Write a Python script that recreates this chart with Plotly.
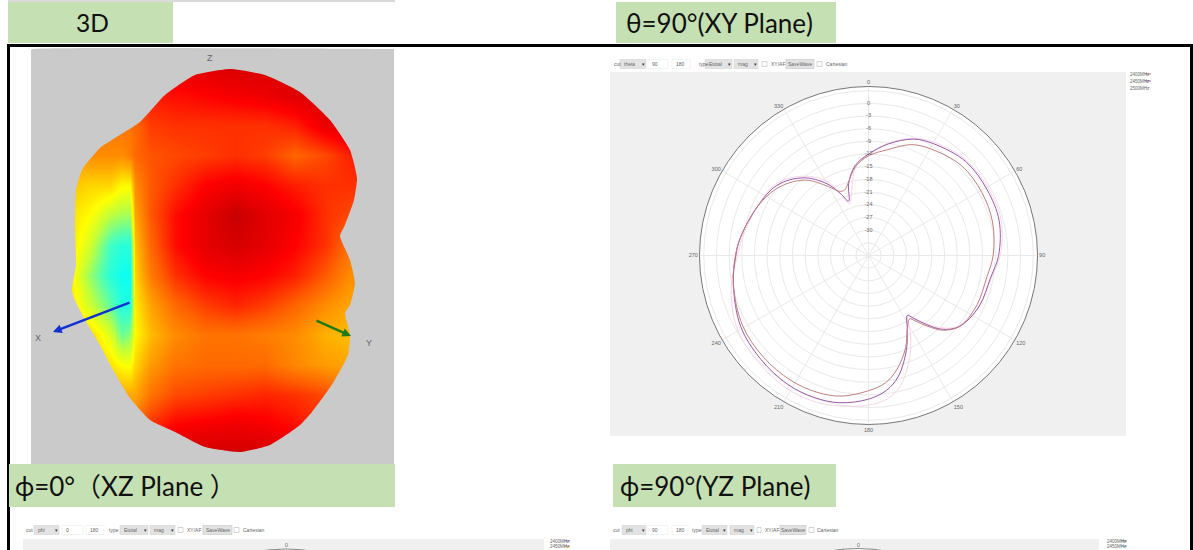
import plotly.graph_objects as go

# ---------- polar pattern (theta = 90 cut) ----------
ANGLES = [0, 10, 21, 30, 46, 61, 75, 90, 100, 115, 128, 135, 140, 144.5, 147, 152.4, 158, 166, 172.4,
          180, 191, 201, 212, 226, 241, 258, 270, 278, 294, 307.5, 320, 330, 335.5, 340, 344.5, 351.5, 360]
GAIN_2400 = [-12.4, -10.6, -7.9, -6.8, -5.4, -5.3, -5.6, -6.5, -7.5, -7.8, -8.7, -11.0, -14.1, -17.0, -18.1, -16.2, -12.5, -8.2, -5.6,
             -4.0, -2.1, -1.4, -1.2, -1.4, -1.9, -3.3, -4.5, -5.4, -7.3, -9.4, -12.7, -17.2, -19.3, -19.5, -18.1, -14.8, -12.4]
GAIN_2450 = [-12.0, -9.2, -6.5, -5.4, -4.0, -3.9, -4.0, -5.2, -6.6, -7.2, -8.7, -11.3, -14.7, -17.8, -19.1, -16.2, -12.0, -6.6, -3.8,
             -2.0, -0.5, 0.0, 0.0, -0.6, -1.4, -3.3, -4.6, -5.4, -7.3, -8.7, -12.0, -16.4, -19.8, -22.3, -18.4, -14.5, -12.0]
GAIN_2500 = [-12.2, -9.0, -6.3, -5.0, -3.7, -3.5, -3.5, -4.8, -6.4, -7.2, -8.9, -11.8, -15.0, -18.0, -19.0, -14.5, -10.0, -4.4, -1.8,
             -0.6, 0.3, 0.9, 0.9, 0.3, -0.4, -2.8, -5.0, -5.8, -7.3, -8.3, -11.5, -15.5, -19.5, -23.0, -21.0, -15.0, -12.2]
SERIES = ["2400MHz", "2450MHz", "2500MHz"]
SERIES_COLORS = ["#c07f80", "#9a58aa", "#f5d6e8"]
RADIAL_TICKS = [-36, -33, -30, -27, -24, -21, -18, -15, -12, -9, -6, -3, 0, 3]
RADIAL_LABELS = [0, -3, -6, -9, -12, -15, -18, -21, -24, -27, -30]
ANGULAR_TICKS = [0, 30, 60, 90, 120, 150, 180, 210, 240, 270, 300, 330]

# ---------- 3D pattern image, read as colour level on a coarse grid ----------
GRID_X = [50, 70, 90, 110, 122, 130, 135, 150, 175, 205, 235, 265, 295, 325, 350, 365]
GRID_Y = [65, 95, 125, 155, 185, 215, 245, 275, 305, 335, 365, 395, 425, 451]
LEVELS = [
    [.80, .80, .80, .80, .80, .80, .82, .84, .86, .88, .90, .90, .90, .90, .90, .90],
    [.70, .70, .70, .70, .70, .72, .74, .76, .78, .80, .82, .84, .88, .90, .90, .90],
    [.60, .60, .60, .60, .60, .60, .62, .70, .72, .72, .72, .72, .75, .85, .90, .90],
    [.50, .50, .55, .55, .55, .58, .62, .66, .68, .70, .72, .70, .63, .68, .75, .75],
    [.45, .45, .42, .42, .36, .36, .55, .65, .72, .80, .83, .80, .75, .72, .72, .72],
    [.40, .40, .35, .25, .22, .22, .50, .65, .78, .86, .93, .87, .82, .72, .68, .68],
    [.40, .40, .28, .10, .06, .06, .45, .62, .78, .86, .90, .86, .80, .72, .60, .60],
    [.38, .38, .20, .06, .02, .02, .42, .58, .72, .80, .82, .80, .75, .65, .55, .55],
    [.40, .40, .27, .14, .05, .05, .38, .50, .62, .70, .74, .70, .63, .55, .50, .50],
    [.42, .42, .42, .30, .15, .20, .36, .46, .55, .60, .60, .58, .55, .48, .46, .46],
    [.45, .45, .45, .40, .35, .34, .42, .52, .60, .62, .62, .62, .56, .52, .50, .50],
    [.50, .50, .50, .50, .50, .50, .50, .60, .68, .70, .72, .74, .72, .68, .60, .58],
    [.60, .60, .60, .60, .60, .60, .62, .72, .80, .82, .84, .82, .78, .70, .70, .70],
    [.80, .80, .80, .80, .80, .80, .80, .85, .90, .90, .90, .90, .90, .85, .80, .80],
]
LEVEL_SCALE = [[0, "#00ffff"], [.12, "#50ffb4"], [.25, "#beff3c"], [.35, "#ffff00"], [.5, "#ffa500"],
               [.65, "#ff5a00"], [.8, "#ff0000"], [.92, "#cd0000"], [1, "#a00000"]]
OUTLINE_X = [230, 265, 300, 330, 350, 357, 354, 345, 340, 347, 350, 355, 350, 345, 350, 348, 333, 312, 300, 270, 240,
             205, 175, 150, 130, 112, 100, 88, 75, 72, 76, 75, 76, 82, 100, 140, 165, 195, 230]
OUTLINE_Y = [69, 75, 92, 120, 150, 178, 200, 225, 236, 253, 260, 283, 305, 313, 335, 355, 383, 412, 425, 445, 452,
             447, 432, 420, 398, 368, 345, 325, 300, 290, 265, 230, 190, 170, 148, 122, 95, 75, 69]
PANEL_X = [31, 32, 393, 394, 394, 394, 394, 393, 32, 31, 31, 31, 31]
PANEL_Y = [50, 49, 49, 49, 50, 463, 464, 464, 464, 464, 463, 50, 50]

# ---------- captions: left, right, top, bottom, text, text x, text anchor, size ----------
BARS = [(8, 173, 2, 43, "3D", 92, "center", 24.5), (616, 836, 2, 43, "θ=90°(XY Plane)", 719, "center", 26),
        (9, 395, 464, 507, "ϕ=0°（XZ Plane ）", 13, "left", 26), (613, 836, 464, 507, "ϕ=90°(YZ Plane)", 715, "center", 26)]
TEXT_FONT = "Lato, 'Noto Sans CJK SC', sans-serif"
UI_FONT = "'Liberation Sans', sans-serif"
UI_COLOR = "#666666"

# ---------- control rows ----------
ROW_TOP = dict(y=64, cut=("theta", "90"), dd=[(620, 646), (705, 732), (734, 758)], inputs=[(648, 668), (672, 690)],
               btn=(786, 814), cb=[(762, 767), (817, 822)], lab=[(612, "cut"), (697, "type"), (769, "XY/AF"), (824, "Cartesian")])
ROW_LEFT = dict(y=530, cut=("phi", "0"), dd=[(34, 59), (120, 148), (150, 175)], inputs=[(62, 83), (86, 104)],
                btn=(203, 232), cb=[(178, 183), (234, 239)], lab=[(24, "cut"), (107, "type"), (185, "XY/AF"), (241, "Cartesian")])
ROW_RIGHT = dict(y=530, cut=("phi", "90"), dd=[(622, 646), (702, 727), (730, 754)], inputs=[(648, 668), (672, 688)],
                 btn=(780, 806), cb=[(757, 761), (809, 814)], lab=[(611, "cut"), (690, "type"), (763, "XY/AF"), (815, "Cartesian")])

W, H = 1193, 550
CX, CY, R = 868.5, 255.5, 169

fig = go.Figure()
fig.add_trace(go.Heatmap(x=GRID_X, y=GRID_Y, z=LEVELS, colorscale=LEVEL_SCALE, zmin=0, zmax=1, zsmooth="best",
                         showscale=False, hoverinfo="skip"))
fig.add_trace(go.Scatter(x=PANEL_X + [None] + OUTLINE_X[::-1], y=PANEL_Y + [None] + OUTLINE_Y[::-1],
                         mode="lines", line=dict(width=0, shape="spline", smoothing=0.5), fill="toself",
                         fillcolor="#cacaca", hoverinfo="skip", showlegend=False))
for name, color, values in zip(SERIES[::-1], SERIES_COLORS[::-1], [GAIN_2500, GAIN_2450, GAIN_2400]):
    fig.add_trace(go.Scatterpolar(theta=ANGLES, r=values, mode="lines", name=name,
                                  line=dict(color=color, width=1, shape="spline", smoothing=1), showlegend=False))
fig.add_trace(go.Scatterpolar(theta=[0] * len(RADIAL_LABELS), r=RADIAL_LABELS, mode="text",
                              text=[str(v) for v in RADIAL_LABELS], textposition="middle center",
                              textfont=dict(size=5.5, color=UI_COLOR, family=UI_FONT), showlegend=False,
                              hoverinfo="skip"))

shapes = [
    dict(type="rect", x0=8, x1=395, y0=0, y1=2, fillcolor="#d9d9d9", line_width=0, layer="below"),
    dict(type="rect", x0=610, x1=1126, y0=72, y1=436, fillcolor="#f0f0f0", line_width=0, layer="below"),
    dict(type="rect", x0=23, x1=544, y0=539, y1=560, fillcolor="#f0f0f0", line_width=0, layer="below"),
    dict(type="rect", x0=610, x1=1099, y0=539, y1=560, fillcolor="#f0f0f0", line_width=0, layer="below"),
    dict(type="line", x0=7, x1=1193, y0=45.5, y1=45.5, line=dict(color="black", width=3), layer="below"),
    dict(type="line", x0=8.5, x1=8.5, y0=44, y1=550, line=dict(color="black", width=3), layer="below"),
    dict(type="line", x0=1191.5, x1=1191.5, y0=44, y1=550, line=dict(color="black", width=3), layer="below"),
]
annotations = []
def label(x, y, text, size=5.5, color=UI_COLOR, family=UI_FONT, anchor="left"):
    annotations.append(dict(x=x, y=y, text=text, showarrow=False, xanchor=anchor, yanchor="middle",
                            font=dict(size=size, color=color, family=family), xref="x", yref="y"))

for x0, x1, y0, y1, text, tx, anchor, size in BARS:
    shapes.append(dict(type="rect", x0=x0, x1=x1, y0=y0, y1=y1, fillcolor="#c5e0b3", line_width=0, layer="below"))
    label(tx, (y0 + y1) / 2, text, size=size, color="#111111", family=TEXT_FONT, anchor=anchor)

def controls(row):
    y = row["y"]
    for (x0, x1), text in zip(row["dd"], [row["cut"][0], "Etotal", "mag"]):
        shapes.append(dict(type="rect", x0=x0, x1=x1, y0=y - 4.5, y1=y + 4.5, fillcolor="#e2e2e2",
                           line=dict(color="#cccccc", width=0.5), layer="below"))
        label(x0 + 2, y, text, size=5)
        label(x1 - 3, y, "▾", size=5, color="#333333", anchor="center")
    for (x0, x1), text in zip(row["inputs"], [row["cut"][1], "180"]):
        shapes.append(dict(type="rect", x0=x0, x1=x1, y0=y - 4.5, y1=y + 4.5, fillcolor="white",
                           line=dict(color="#e0e8ea", width=0.5), layer="below"))
        label(x0 + 2, y, text, size=5)
    x0, x1 = row["btn"]
    shapes.append(dict(type="rect", x0=x0, x1=x1, y0=y - 4.5, y1=y + 4.5, fillcolor="#e2e2e2",
                       line=dict(color="#bbbbbb", width=0.5), layer="below"))
    label((x0 + x1) / 2, y, "SaveWave", size=5, anchor="center")
    for x0, x1 in row["cb"]:
        shapes.append(dict(type="rect", x0=x0, x1=x1, y0=y - 2.5, y1=y + 2.5, fillcolor="white",
                           line=dict(color="#aaaaaa", width=0.5), layer="below"))
    for x, text in row["lab"]:
        label(x, y, text, size=5)

for row in (ROW_TOP, ROW_LEFT, ROW_RIGHT):
    controls(row)

for y, name, color in zip([74, 81, 88], SERIES, SERIES_COLORS):
    label(1128, y, name, size=4.5)
    shapes.append(dict(type="line", x0=1145, x1=1151, y0=y, y1=y, line=dict(color=color, width=1)))
for x, pair in [(548, [("#8080d0", 541), ("#e0b060", 546.5)]), (1105, [("#777777", 541), ("#80d0c0", 546.5)])]:
    for (color, y), name in zip(pair, SERIES):
        label(x, y, name, size=4.5)
        shapes.append(dict(type="line", x0=x + 16, x1=x + 22, y0=y, y1=y, line=dict(color=color, width=1)))
for x, top in ((286, 549), (858, 548.5)):
    label(x, 544.5, "0", size=5, anchor="center")
    shapes.append(dict(type="circle", x0=x - 165, x1=x + 165, y0=top, y1=top + 330, fillcolor="white",
                       line=dict(color="#888888", width=1), layer="below"))

# 3D axes
annotations.append(dict(x=53, y=332, ax=131, ay=302, axref="x", ayref="y", xref="x", yref="y", showarrow=True,
                        arrowhead=2, arrowsize=0.7, arrowwidth=2.5, arrowcolor="#1030d0", text=""))
annotations.append(dict(x=351, y=336, ax=315, ay=320, axref="x", ayref="y", xref="x", yref="y", showarrow=True,
                        arrowhead=2, arrowsize=0.7, arrowwidth=2.5, arrowcolor="#1f7a1a", text=""))
label(38, 338, "X", size=9, anchor="center")
label(369, 343, "Y", size=9, anchor="center")
label(210, 58, "Z", size=9, anchor="center")

fig.update_layout(
    width=W, height=H, margin=dict(l=0, r=0, t=0, b=0), paper_bgcolor="white", plot_bgcolor="white",
    showlegend=False, shapes=shapes, annotations=annotations,
    xaxis=dict(range=[0, W], visible=False, domain=[0, 1], fixedrange=True),
    yaxis=dict(range=[H, 0], visible=False, domain=[0, 1], fixedrange=True),
    polar=dict(
        domain=dict(x=[(CX - R) / W, (CX + R) / W], y=[1 - (CY + R) / H, 1 - (CY - R) / H]),
        bgcolor="white",
        angularaxis=dict(rotation=90, direction="clockwise", tickvals=ANGULAR_TICKS, ticks="",
                         tickfont=dict(size=5.5, color=UI_COLOR, family=UI_FONT),
                         gridcolor="#e9e9e9", gridwidth=1, linecolor="#777777", linewidth=1),
        radialaxis=dict(range=[-36, 4], tickvals=RADIAL_TICKS, showticklabels=False, ticks="", showline=False,
                        gridcolor="#e9e9e9", gridwidth=1, angle=0),
    ),
)
fig.write_html("out.html", config={"displayModeBar": False},
               post_script="document.body.style.margin='0';document.body.style.overflow='hidden';")
